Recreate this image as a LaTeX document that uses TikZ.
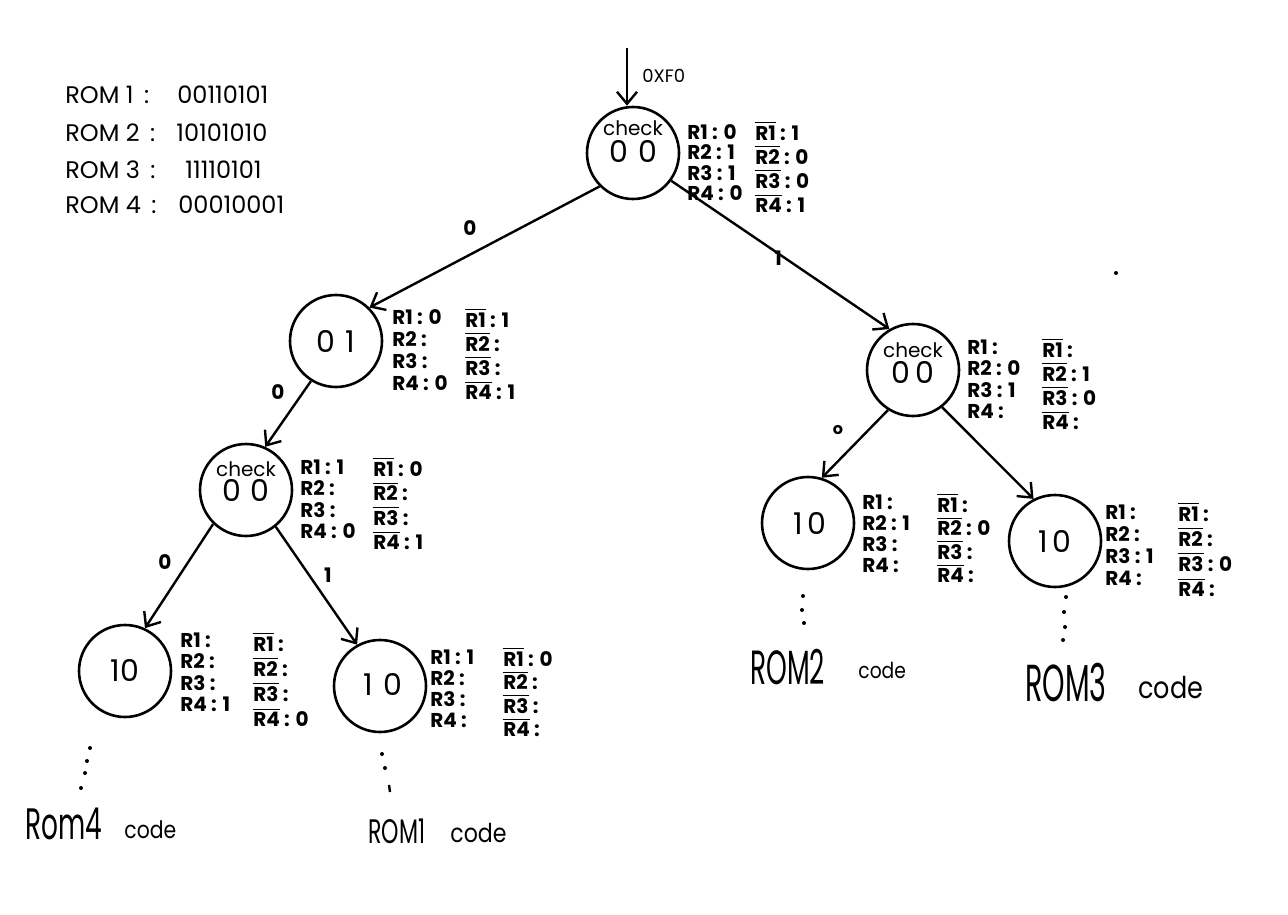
\documentclass[tikz,border=0pt]{standalone}
\usepackage{fontspec}
\setmainfont{Poppins}
\usetikzlibrary{arrows.meta}
\newcommand\rtab[8]{%
  \foreach \i/\a/\b in {#8}{%
    \node[tl] (#1r\i) at (#2,{#3+#4*(\i-1)}) {R\i{} : \a};
    \node[tl] (#1b\i) at (#5,{#6+#7*(\i-1)}) {$\overline{\mbox{R\i}}$ : \b};
  }}
\begin{document}
\begin{tikzpicture}[x=0.5pt,y=-0.5pt,
  state/.style={circle,draw,line width=1.3pt,minimum size=46pt,inner sep=0pt},
  arr/.style={line width=1.2pt,-{Straight Barb[length=6pt,width=10pt,line width=1.2pt]}},
  tl/.style={anchor=west,inner sep=0pt,font=\fontsize{10}{10}\selectfont\bfseries},
  chk/.style={inner sep=0pt,font=\fontsize{10}{10}\selectfont},
  dig/.style={inner sep=0pt,font=\fontsize{15}{15}\selectfont},
  lbl/.style={inner sep=0pt,font=\fontsize{10}{10}\selectfont\bfseries},
  rom/.style={anchor=west,inner sep=0pt,font=\fontsize{12}{12}\selectfont},
  big/.style={anchor=west,inner sep=0pt},
  dotf/.style={fill=black}]
\useasboundingbox (0,0) rectangle (1288,914);

% ROM list
\node[rom] (rom1) at (65,95) {ROM 1 \,:};
\node[rom] (rom1v) at (177,95) {00110101};
\node[rom] (rom2) at (65,133) {ROM 2 \,:};
\node[rom] (rom2v) at (176,133) {10101010};
\node[rom] (rom3) at (65,170) {ROM 3 \,:};
\node[rom] (rom3v) at (185,170) {11110101};
\node[rom] (rom4) at (65,205) {ROM 4 \,:};
\node[rom] (rom4v) at (178,205) {00010001};

% states
\node[state] (root) at (633,153) {};
\node[chk] (rootc) at (633,128) {check};
\node[dig] (rootd) at (633,151) {0\,\,0};

\node[state] (n01) at (336,341) {};
\node[dig] (n01d) at (336,341) {0\,\,1};

\node[state] (rc) at (913,370) {};
\node[chk] (rcc) at (913,350) {check};
\node[dig] (rcd) at (913,372) {0\,0};

\node[state] (lc) at (246,490) {};
\node[chk] (lcc) at (246,469) {check};
\node[dig] (lcd) at (246,490) {0\,\,0};

\node[state] (rl) at (808,523) {};
\node[dig] (rld) at (810,523) {1\,0};
\node[state] (rr) at (1055,541) {};
\node[dig] (rrd) at (1055,541) {1\,0};
\node[state] (ll) at (125,671) {};
\node[dig] (lld) at (125,670) {10};
\node[state] (lr) at (380,686) {};
\node[dig] (lrd) at (383,684) {1\,\,0};

% entry
\coordinate (in) at (627,48);
\draw[arr] (in) -- (in |- root.north);
\node[anchor=west,inner sep=0pt,font=\fontsize{9}{9}\selectfont] (hex) at (642,76) {0XF0};

% edges
\draw[arr] (root.225) -- (n01.45);
\draw[arr] (root.324) -- (rc.120);
\draw[arr] (n01.238) -- (lc.66);
\draw[arr] (rc.238) -- (rl.73);
\draw[arr] (rc.308) -- (rr.117);
\draw[arr] (lc.226) -- (ll.65);
\draw[arr] (lc.309) -- (lr.119);

\node[lbl] (e1) at (470,228) {0};
\node[lbl] (e2) at (778,258) {1};
\node[lbl] (e3) at (278,392) {0};
\node[lbl,font=\fontsize{8}{8}\selectfont\bfseries] (e4) at (838,430) {o};
\node[lbl] (e5) at (165,562) {0};
\node[lbl] (e6) at (328,575) {1};

% tables
\rtab{rt}{687}{132}{20.5}{755}{131}{24}{1/0/1,2/1/0,3/1/0,4/0/1}
\rtab{na}{392}{317}{22}{465}{318}{24}{1/0/1,2/{}/{},3/{}/{},4/0/1}
\rtab{ra}{967}{347}{21.5}{1042}{348}{24}{1/{}/{},2/0/1,3/1/0,4/{}/{}}
\rtab{la}{300}{467}{21.5}{373}{467}{24.5}{1/1/0,2/{}/{},3/{}/{},4/0/1}
\rtab{rla}{862}{502}{21}{937}{503}{23.5}{1/{}/{},2/1/0,3/{}/{},4/{}/{}}
\rtab{rra}{1105}{512}{22}{1178}{512}{25}{1/{}/{},2/{}/{},3/1/0,4/{}/{}}
\rtab{lla}{180}{640}{21.5}{253}{642}{25}{1/{}/{},2/{}/{},3/{}/{},4/1/0}
\rtab{lra}{430}{657}{21}{503}{657}{23.5}{1/1/0,2/{}/{},3/{}/{},4/{}/{}}

% dots and code labels
\foreach \p in {(90,748),(87,761),(85,773),(81,788)} \fill \p circle (2);
\node[big] (c4) at (25,824) {\fontsize{22}{22}\selectfont\scalebox{0.6}[1]{Rom4}};
\node[big] (c4c) at (124,830) {\fontsize{12}{12}\selectfont\scalebox{0.85}[1]{code}};

\foreach \p in {(382,754),(385,768)} \fill \p circle (2);
\draw[line width=1.2pt] (389,785) -- (390,792);
\node[big] (c1) at (368,831) {\fontsize{17}{17}\selectfont\scalebox{0.65}[1]{ROM1}};
\node[big] (c1c) at (450,833) {\fontsize{13}{13}\selectfont\scalebox{0.85}[1]{code}};

\foreach \p in {(803,596),(802,610),(804,623)} \fill \p circle (2);
\node[big] (c2) at (750,667) {\fontsize{24}{24}\selectfont\scalebox{0.55}[1]{ROM2}};
\node[big] (c2c) at (858,670) {\fontsize{11}{11}\selectfont\scalebox{0.85}[1]{code}};

\foreach \p in {(1066,597),(1064,612),(1065,627),(1063,640)} \fill \p circle (2);
\node[big] (c3) at (1025,683) {\fontsize{26}{26}\selectfont\scalebox{0.55}[1]{ROM3}};
\node[big] (c3c) at (1138,688) {\fontsize{15}{15}\selectfont\scalebox{0.85}[1]{code}};

\fill (1116,273) circle (2);
\end{tikzpicture}
\end{document}
